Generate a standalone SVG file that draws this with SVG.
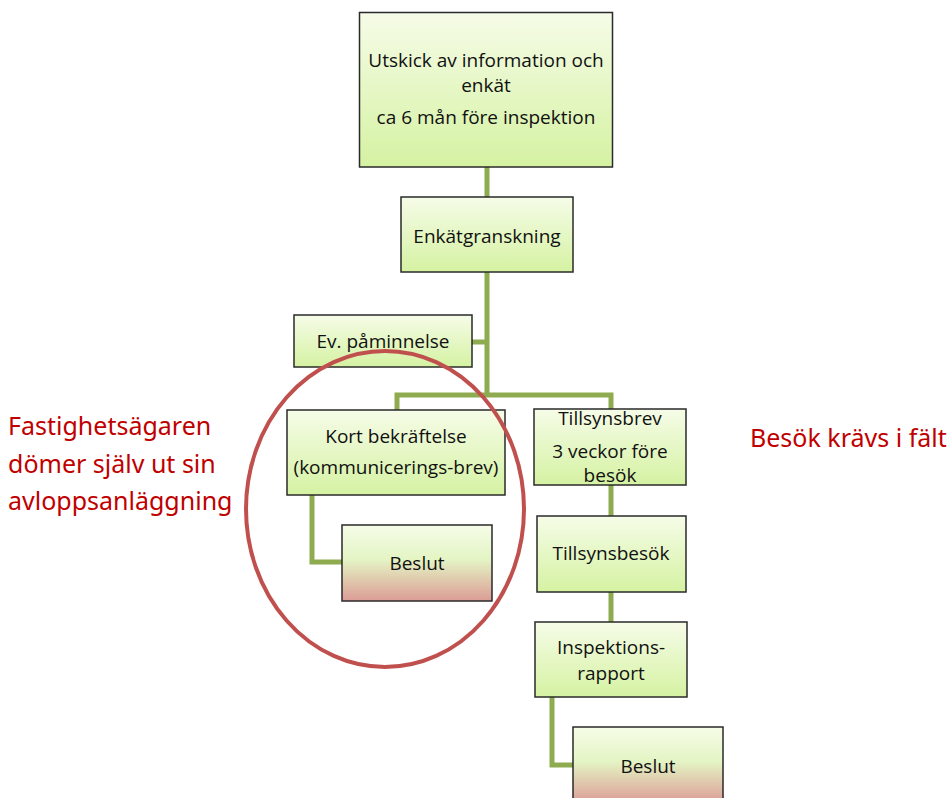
<svg xmlns="http://www.w3.org/2000/svg" width="947" height="798" viewBox="0 0 947 798">
<defs>
<linearGradient id="g" x1="0" y1="0" x2="0" y2="1">
<stop offset="0" stop-color="#f6fce8"/>
<stop offset="1" stop-color="#d5f2a2"/>
</linearGradient>
<linearGradient id="r" x1="0" y1="0" x2="0" y2="1">
<stop offset="0" stop-color="#f6fce8"/>
<stop offset="0.45" stop-color="#e4f5c4"/>
<stop offset="1" stop-color="#dc9c96"/>
</linearGradient>
</defs>
<style>
.n{fill:url(#g);stroke:#2a2a2a;stroke-width:1.5}
.b{fill:url(#r);stroke:#2a2a2a;stroke-width:1.5}
.t{font-family:"Open Sans","Noto Sans",sans-serif;font-size:19px;fill:#111;text-anchor:middle}
.c{fill:none;stroke:#8eac4f;stroke-width:5}
.red{font-family:"Noto Sans","Open Sans",sans-serif;font-size:25px;fill:#c00000}
</style>
<g id="connectors">
<path class="c" d="M487 167V395"/>
<path class="c" d="M472 342H487"/>
<path class="c" d="M397 410V395H611V409"/>
<path class="c" d="M611 485V516"/>
<path class="c" d="M611 592V622"/>
<path class="c" d="M312 495V562H342"/>
<path class="c" d="M552 697V765H573"/>
</g>
<g id="n1"><rect class="n" x="359.5" y="12.5" width="253" height="154.5"/>
<text class="t" x="486" y="67">Utskick av information och</text>
<text class="t" x="486" y="92">enkät</text>
<text class="t" x="486" y="124">ca 6 mån före inspektion</text></g>
<g id="n2"><rect class="n" x="401" y="197" width="172" height="75"/>
<text class="t" x="487" y="243">Enkätgranskning</text></g>
<g id="n3"><rect class="n" x="294" y="315" width="178" height="52"/>
<text class="t" x="383" y="348">Ev. påminnelse</text></g>
<g id="n4"><rect class="n" x="287" y="410" width="218" height="85"/>
<text class="t" x="396" y="443">Kort bekräftelse</text>
<text class="t" x="396" y="474">(kommunicerings-brev)</text></g>
<g id="n5"><rect class="b" x="342" y="525" width="150" height="76"/>
<text class="t" x="417" y="570">Beslut</text></g>
<g id="n6"><rect class="n" x="534" y="409" width="152" height="76"/>
<text class="t" x="610" y="425">Tillsynsbrev</text>
<text class="t" x="610" y="458">3 veckor före</text>
<text class="t" x="610" y="482">besök</text></g>
<g id="n7"><rect class="n" x="537" y="516" width="149" height="76"/>
<text class="t" x="611" y="560">Tillsynsbesök</text></g>
<g id="n8"><rect class="n" x="535" y="622" width="152" height="75"/>
<text class="t" x="611" y="654">Inspektions-</text>
<text class="t" x="611" y="680">rapport</text></g>
<g id="n9"><rect class="b" x="573" y="727" width="150" height="76"/>
<text class="t" x="648" y="773">Beslut</text></g>
<ellipse cx="385" cy="509" rx="139" ry="158" fill="none" stroke="#c0504d" stroke-width="4"/>
<text class="red" x="8" y="435">Fastighetsägaren</text>
<text class="red" x="8" y="473">dömer själv ut sin</text>
<text class="red" x="8" y="510">avloppsanläggning</text>
<text class="red" x="750" y="447">Besök krävs i fält</text>
</svg>
